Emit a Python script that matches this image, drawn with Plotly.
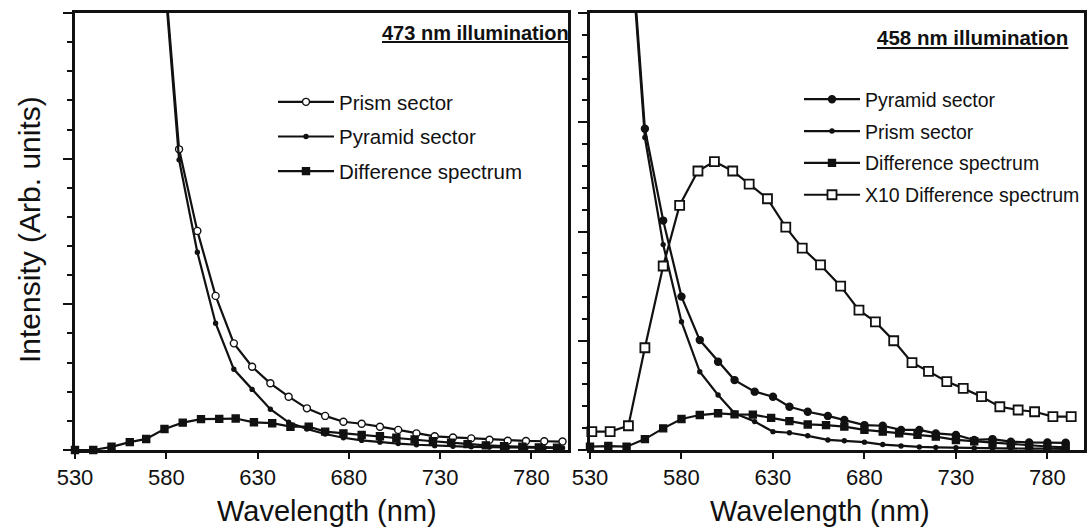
import plotly.graph_objects as go

# ---------------- data ----------------
# Left panel: 473 nm illumination
wl_l_sector = [577, 587, 597, 607, 617, 627, 637, 647, 657, 667, 677, 687, 697, 707,
               717, 727, 737, 747, 757, 767, 777, 787, 797]
prism_l = [18.0, 10.32, 7.52, 5.29, 3.66, 2.86, 2.29, 1.83, 1.43, 1.17, 0.97, 0.90, 0.80,
           0.69, 0.57, 0.47, 0.43, 0.40, 0.35, 0.32, 0.31, 0.30, 0.29]
pyramid_l = [17.8, 9.96, 6.79, 4.35, 2.77, 2.08, 1.40, 0.95, 0.72, 0.55, 0.42, 0.33, 0.27,
             0.22, 0.18, 0.15, 0.13, 0.11, 0.10, 0.09, 0.08, 0.08, 0.07]
wl_l_diff = [530, 540, 550, 560, 569, 579, 589, 599, 609, 618, 628, 638, 648, 658, 667,
             677, 687, 697, 706, 716, 726, 736, 745, 755, 765, 775, 784, 794]
diff_l = [0.0, 0.0, 0.11, 0.27, 0.38, 0.72, 0.94, 1.06, 1.07, 1.08, 0.95, 0.92, 0.80, 0.80,
          0.63, 0.57, 0.52, 0.47, 0.42, 0.36, 0.30, 0.25, 0.20, 0.16, 0.13, 0.11, 0.09, 0.08]

# Right panel: 458 nm illumination
wl_r_sector = [551, 560, 570, 580, 590, 600, 609, 620, 630, 639, 649, 660, 669, 680, 690,
               700, 710, 719, 730, 740, 750, 760, 770, 780, 790]
pyramid_r = [25.0, 14.7, 10.5, 7.02, 5.03, 4.04, 3.20, 2.67, 2.44, 1.98, 1.75, 1.56, 1.37,
             1.14, 1.11, 0.92, 0.92, 0.76, 0.69, 0.46, 0.50, 0.38, 0.35, 0.35, 0.33]
prism_r = [24.6, 14.3, 9.4, 5.87, 3.58, 2.52, 1.68, 1.30, 0.84, 0.79, 0.65, 0.46, 0.42,
           0.36, 0.25, 0.18, 0.14, 0.12, 0.10, 0.09, 0.08, 0.07, 0.06, 0.06, 0.05]
wl_r_diff = [530, 540, 550, 560, 570, 580, 590, 600, 609, 619, 629, 639, 649, 659, 669,
             680, 690, 699, 709, 719, 730, 740, 750, 760, 770, 780, 790]
diff_r = [0.15, 0.18, 0.15, 0.50, 0.99, 1.42, 1.60, 1.68, 1.63, 1.62, 1.47, 1.32, 1.17,
          1.14, 1.07, 0.92, 0.84, 0.76, 0.69, 0.61, 0.46, 0.40, 0.32, 0.26, 0.20, 0.16, 0.12]
wl_r_x10 = [531, 541, 551, 560, 570, 579, 589, 598, 608, 617, 627, 637, 646, 656, 667,
            677, 686, 696, 706, 715, 725, 734, 744, 754, 764, 773, 783, 793]
x10_r = [0.84, 0.84, 1.11, 4.68, 8.42, 11.2, 12.77, 13.2, 12.77, 12.17, 11.5, 10.2, 9.24,
         8.47, 7.5, 6.4, 5.86, 5.0, 4.0, 3.6, 3.13, 2.82, 2.44, 1.98, 1.83, 1.75, 1.53, 1.53]

x_ticks = [530, 580, 630, 680, 730, 780]
title_left = "473 nm illumination"
title_right = "458 nm illumination"
y_title = "Intensity (Arb. units)"
x_title = "Wavelength (nm)"

# ---------------- figure ----------------
FONT = "Liberation Sans, Arial, Helvetica, sans-serif"
BLACK = "#111111"
W, H = 1092, 529
ML, MR, MT, MB = 75, 8, 13, 79
PW = W - ML - MR
PH = H - MT - MB
left_dom = [0, (568 - ML) / PW]
right_dom = [(590 - ML) / PW, 1]


def px(xpix):
    return (xpix - ML) / PW


def py(ypix):
    return (H - MB - ypix) / PH


fig = go.Figure()


def add(x, y, name, xa, ya, leg, group, symbol, size, fill, lw=1.4, clip=True):
    fig.add_trace(go.Scatter(
        x=x, y=y, name=name, xaxis=xa, yaxis=ya, legend=leg, legendgroup=group,
        mode="lines+markers", cliponaxis=clip,
        line=dict(color=BLACK, width=2.2),
        marker=dict(symbol=symbol, size=size, color=fill,
                    line=dict(color=BLACK, width=lw)),
    ))


add(wl_l_sector, prism_l, "Prism sector", "x", "y", "legend", "a", "circle", 7, "white")
add(wl_l_sector, pyramid_l, "Pyramid sector", "x", "y", "legend", "b", "circle", 4, BLACK)
add(wl_l_diff, diff_l, "Difference spectrum", "x", "y", "legend", "c", "square", 7, BLACK,
    clip=False)

add(wl_r_sector, pyramid_r, "Pyramid sector", "x2", "y2", "legend2", "d", "circle", 7, BLACK)
add(wl_r_sector, prism_r, "Prism sector", "x2", "y2", "legend2", "e", "circle", 4, BLACK)
add(wl_r_diff, diff_r, "Difference spectrum", "x2", "y2", "legend2", "f", "square", 7, BLACK,
    clip=False)
add(wl_r_x10, x10_r, "X10 Difference spectrum", "x2", "y2", "legend2", "g", "square", 9,
    "white", lw=1.8, clip=False)

xax = dict(range=[530, 800], tickvals=x_ticks, ticks="outside", ticklen=6, tickwidth=2,
           tickcolor=BLACK, showline=True, linecolor=BLACK, linewidth=2.5, mirror=True,
           showgrid=False, zeroline=False,
           tickfont=dict(family=FONT, size=22, color=BLACK))
yax = dict(ticks="outside", ticklen=9, tickwidth=2, tickcolor=BLACK, dtick=5, tick0=0,
           showticklabels=False, showline=True, linecolor=BLACK, linewidth=2.5,
           mirror=True, showgrid=False, zeroline=False,
           minor=dict(dtick=1, ticks="outside", ticklen=5, tickwidth=2, tickcolor=BLACK,
                      showgrid=False))

fig.update_layout(
    width=W, height=H,
    margin=dict(l=ML, r=MR, t=MT, b=MB, autoexpand=False),
    paper_bgcolor="white", plot_bgcolor="white",
    showlegend=True,
    xaxis=dict(xax, domain=left_dom, anchor="y", automargin=False),
    yaxis=dict(yax, range=[0, 15], domain=[0, 1], anchor="x", automargin=False),
    xaxis2=dict(xax, domain=right_dom, anchor="y2", automargin=False),
    yaxis2=dict(yax, range=[0, 20], domain=[0, 1], anchor="x2", automargin=False),
    legend=dict(x=px(273), y=py(82), xanchor="left", yanchor="top",
                bgcolor="rgba(0,0,0,0)", borderwidth=0, itemwidth=56,
                tracegroupgap=5, font=dict(family=FONT, size=20.5, color=BLACK)),
    legend2=dict(x=px(799), y=py(80), xanchor="left", yanchor="top",
                 bgcolor="rgba(0,0,0,0)", borderwidth=0, itemwidth=56,
                 tracegroupgap=3.5, font=dict(family=FONT, size=19.5, color=BLACK)),
    annotations=[
        dict(text="<b><u>" + title_left + "</u></b>", xref="paper", yref="paper",
             x=px(380), y=py(33), xanchor="left", yanchor="middle", showarrow=False,
             font=dict(family=FONT, size=20, color=BLACK)),
        dict(text="<b><u>" + title_right + "</u></b>", xref="paper", yref="paper",
             x=px(875), y=py(37), xanchor="left", yanchor="middle", showarrow=False,
             font=dict(family=FONT, size=20.5, color=BLACK)),
        dict(text=y_title, xref="paper", yref="paper", x=px(30), y=py(230),
             xanchor="center", yanchor="middle", textangle=-90, showarrow=False,
             font=dict(family=FONT, size=30, color=BLACK)),
        dict(text=x_title, xref="paper", yref="paper", x=px(327), y=py(511),
             xanchor="center", yanchor="middle", showarrow=False,
             font=dict(family=FONT, size=29, color=BLACK)),
        dict(text=x_title, xref="paper", yref="paper", x=px(820), y=py(511),
             xanchor="center", yanchor="middle", showarrow=False,
             font=dict(family=FONT, size=29, color=BLACK)),
    ],
)

fig.write_html("out.html", config={"displayModeBar": False},
               post_script="document.body.style.margin='0px';"
               "document.body.style.overflow='hidden';")
